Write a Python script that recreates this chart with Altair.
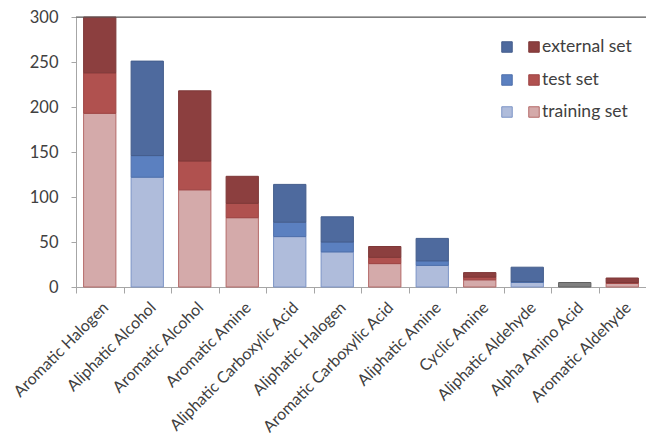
import altair as alt
import pandas as pd

categories = ["Aromatic Halogen", "Aliphatic Alcohol", "Aromatic Alcohol", "Aromatic Amine",
              "Aliphatic Carboxylic Acid", "Aliphatic Halogen", "Aromatic Carboxylic Acid",
              "Aliphatic Amine", "Cyclic Amine", "Aliphatic Aldehyde", "Alpha Amino Acid",
              "Aromatic Aldehyde"]
family = ["red", "blue", "red", "red", "blue", "blue", "red", "blue", "red", "blue", "gray", "red"]
training = [193, 122, 108, 77, 56, 39, 26, 24, 8, 5, 5, 4]
test = [45, 24, 32, 16, 16, 11, 7, 5, 3, 1, 0, 1]
external = [62, 105, 78, 30, 42, 28, 12, 25, 5, 16, 0, 5]
set_names = ["training set", "test set", "external set"]
legend_labels = ["external set", "test set", "training set"]

fills = {
    "red|training set": "#D4AAAA", "red|test set": "#B0514F", "red|external set": "#8C3F3F",
    "blue|training set": "#AFBCDB", "blue|test set": "#5B80C0", "blue|external set": "#4E6A9E",
    "gray|training set": "#808080",
}
strokes = {
    "red|training set": "#B46A69", "red|test set": "#9E4544", "red|external set": "#7E3838",
    "blue|training set": "#7C94C6", "blue|test set": "#4F70AC", "blue|external set": "#445D8C",
    "gray|training set": "#606060",
}

rows = []
for i, c in enumerate(categories):
    for j, (s, vals) in enumerate(zip(set_names, [training, test, external])):
        if vals[i] > 0:
            rows.append({"category": c, "set": s, "value": vals[i], "order": j,
                         "key": f"{family[i]}|{s}"})
df = pd.DataFrame(rows)
keys = list(fills.keys())

FONT = "Lato"
TXT = "#404040"
W, H = 570, 270

bars = alt.Chart(df).mark_bar(width=alt.RelativeBandSize(0.68), strokeWidth=1).encode(
    x=alt.X("category:N", sort=categories, title=None,
            scale=alt.Scale(paddingInner=0, paddingOuter=0),
            axis=alt.Axis(labelAngle=-45, labelFont=FONT, labelFontSize=16, labelColor=TXT,
                          domainColor="#A6A6A6", tickColor="#A6A6A6", tickSize=6,
                          tickBand="extent", labelPadding=6, labelLimit=300)),
    y=alt.Y("value:Q", stack="zero", title=None,
            scale=alt.Scale(domain=[0, 300], nice=False),
            axis=alt.Axis(values=[0, 50, 100, 150, 200, 250, 300], grid=False,
                          labelFont=FONT, labelFontSize=16.5, labelColor=TXT,
                          domainColor="#A6A6A6", tickColor="#A6A6A6", tickSize=5,
                          labelPadding=13)),
    color=alt.Color("key:N", scale=alt.Scale(domain=keys, range=[fills[k] for k in keys]), legend=None),
    stroke=alt.Stroke("key:N", scale=alt.Scale(domain=keys, range=[strokes[k] for k in keys]), legend=None),
    order=alt.Order("order:Q"),
)

one = pd.DataFrame({"a": [0]})
top_rule = alt.Chart(one).mark_rule(color="#595959", strokeWidth=1).encode(
    x=alt.value(0), x2=alt.value(W), y=alt.value(0))

layers = [bars, top_rule]
legend_sets = ["external set", "test set", "training set"]
row_y = [30, 63, 95]
for lab, s, yy in zip(legend_labels, legend_sets, row_y):
    for fam, xx in [("blue", 431), ("red", 458)]:
        k = f"{fam}|{s}"
        layers.append(alt.Chart(one).mark_square(size=110, filled=True, fill=fills[k],
                                                  stroke=strokes[k], strokeWidth=1, opacity=1).encode(
            x=alt.value(xx), y=alt.value(yy)))
    layers.append(alt.Chart(pd.DataFrame({"t": [lab]})).mark_text(
        align="left", baseline="middle", font=FONT, fontSize=17.5, color=TXT).encode(
        x=alt.value(466), y=alt.value(yy), text="t:N"))

chart = alt.layer(*layers).properties(
    width=W, height=H,
    autosize=alt.AutoSizeParams(type="none"),
    padding={"left": 68, "top": 9, "right": 0, "bottom": 149},
).configure_view(stroke="#A6A6A6")

chart.save("out.html", embed_options={"renderer": "svg", "actions": False})
